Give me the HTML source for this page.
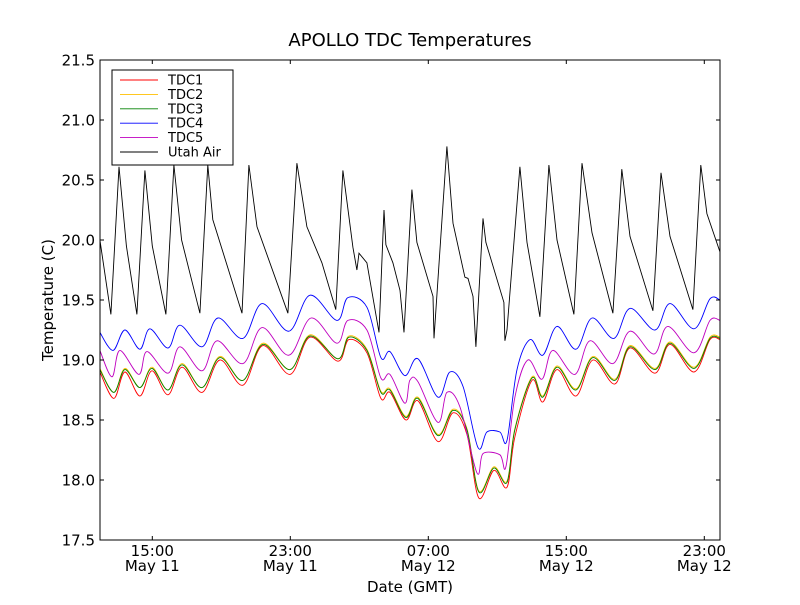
<!DOCTYPE html>
<html><head><meta charset="utf-8"><style>
body{margin:0;background:#fff;font-family:"Liberation Sans","DejaVu Sans",sans-serif}
svg text{font-family:"DejaVu Sans","Liberation Sans",sans-serif}
</style></head><body>
<svg id="c" width="800" height="600" xmlns="http://www.w3.org/2000/svg">
<rect width="800" height="600" fill="#fff"/>
<text x="410" y="46" font-size="18" text-anchor="middle">APOLLO TDC Temperatures</text>
<text x="0" y="0" font-size="15" text-anchor="middle" transform="translate(53,300) rotate(-90)">Temperature (C)</text>
<text x="410" y="592" font-size="15" text-anchor="middle">Date (GMT)</text>
<g id="series"></g>
<g id="axes"></g>
<g id="legend"></g>
</svg>
<script>
// time in hours since 00:30 GMT May 11
const tickHours=[14.5,22.5,30.5,38.5,46.5];
const tickTimes=["15:00","23:00","07:00","15:00","23:00"];
const tickDates=["May 11","May 11","May 12","May 12","May 12"];
const yTicks=[17.5,18.0,18.5,19.0,19.5,20.0,20.5,21.0,21.5];
const seriesNames=["TDC1","TDC2","TDC3","TDC4","TDC5","Utah Air"];
const seriesColors=["#ff0000","#ffbf00","#008000","#0000ff","#bf00bf","#000000"];

const tUtah=[11.46,12.10,12.57,13.0,13.61,14.07,14.5,15.29,15.75,16.2,17.26,17.72,18.01,19.70,20.10,20.57,22.36,22.88,23.46,24.33,25.14,25.55,26.13,26.36,26.48,26.94,27.64,27.93,28.04,28.45,28.86,29.09,29.55,29.84,30.77,30.83,31.58,31.93,32.62,32.80,33.09,33.26,33.67,33.84,34.88,34.94,35.06,35.81,36.22,36.97,37.49,37.96,38.94,39.41,39.99,41.20,41.72,42.19,43.52,43.99,44.51,45.84,46.30,46.65,47.41];
const vUtah=[20.0,19.38,20.61,19.95,19.38,20.58,19.95,19.38,20.625,20.0,19.39,20.625,20.17,19.39,20.625,20.11,19.39,20.64,20.11,19.81,19.42,20.58,19.94,19.75,19.89,19.81,19.23,20.25,19.96,19.81,19.58,19.23,20.42,19.98,19.53,19.18,20.78,20.14,19.69,19.68,19.53,19.11,20.18,19.98,19.48,19.16,19.25,20.61,19.98,19.36,20.625,20.0,19.38,20.64,20.06,19.39,20.59,20.03,19.41,20.56,20.03,19.42,20.625,20.22,19.9];

const tTDC4=[11.46,12.22,12.91,13.78,14.36,15.41,16.10,17.38,18.30,19.75,20.86,22.42,23.64,25.20,25.84,26.94,27.75,28.28,29.14,29.9,31.06,31.75,32.51,33.38,33.9,34.65,35.06,35.64,36.39,37.14,37.96,39.06,39.99,41.26,42.19,43.64,44.51,45.9,46.83,47.41];
const vTDC4=[19.23,19.08,19.25,19.09,19.26,19.1,19.29,19.11,19.35,19.18,19.47,19.24,19.54,19.33,19.52,19.44,19.02,19.07,18.87,19.01,18.69,18.9,18.78,18.27,18.4,18.4,18.33,18.92,19.17,19.04,19.28,19.09,19.35,19.18,19.43,19.25,19.47,19.26,19.51,19.5];

const tTDC5=[11.46,12.16,12.62,13.72,14.19,15.41,16.1,17.38,18.25,19.75,20.86,22.42,23.7,25.2,25.84,26.94,27.75,28.28,29.14,29.43,29.9,31.06,31.58,32.33,33.32,33.67,34.65,35.0,35.52,36.27,37.09,37.72,38.99,39.87,41.2,42.19,43.58,44.39,45.9,46.83,47.41];
const vTDC5=[19.08,18.86,19.08,18.88,19.07,18.89,19.11,18.91,19.16,18.97,19.27,19.04,19.35,19.14,19.33,19.25,18.85,18.88,18.64,18.83,18.82,18.48,18.73,18.61,18.06,18.22,18.21,18.11,18.69,19.0,18.84,19.08,18.88,19.16,18.97,19.24,19.05,19.28,19.06,19.33,19.33];

const tTDC=[11.46,12.27,12.91,13.78,14.48,15.41,16.22,17.38,18.42,19.75,20.91,22.48,23.64,25.26,25.9,26.94,27.75,28.28,29.2,29.9,31.06,31.93,32.74,33.43,34.3,35.06,35.52,36.51,37.14,37.96,39.06,40.04,41.32,42.19,43.64,44.51,45.9,46.83,47.41];
const vTDC1=[18.9,18.68,18.9,18.7,18.91,18.71,18.94,18.73,19.0,18.79,19.12,18.88,19.19,18.99,19.17,19.06,18.68,18.73,18.5,18.66,18.32,18.56,18.38,17.85,18.08,17.94,18.36,18.83,18.65,18.92,18.7,19.0,18.8,19.1,18.89,19.13,18.9,19.17,19.17];
const vTDC2=[18.93,18.73,18.93,18.77,18.94,18.75,18.97,18.77,19.03,18.83,19.14,18.92,19.21,19.01,19.2,19.09,18.74,18.76,18.53,18.69,18.38,18.59,18.43,17.91,18.11,17.99,18.43,18.86,18.7,18.95,18.76,19.03,18.84,19.12,18.93,19.15,18.94,19.19,19.19];
const vTDC3=[18.92,18.73,18.92,18.77,18.93,18.75,18.96,18.77,19.02,18.83,19.13,18.92,19.2,19.01,19.19,19.08,18.73,18.75,18.52,18.68,18.37,18.58,18.42,17.9,18.1,17.98,18.42,18.85,18.69,18.94,18.75,19.02,18.83,19.11,18.92,19.14,18.93,19.18,19.18];

const NS="http://www.w3.org/2000/svg";
const X0=100,X1=720,Y0=60,Y1=540;
function xs(h){return 152.3+(h-14.5)*17.25;}
function ys(v){return Y1-(v-17.5)*120;}
function mk(tag,parent){const e=document.createElementNS(NS,tag);parent.appendChild(e);return e;}
function linearPath(t,v){return t.map((h,i)=>(i?"L":"M")+xs(h).toFixed(1)+","+ys(v[i]).toFixed(1)).join("");}
function smoothPath(t,v){
  const p=t.map((h,i)=>[xs(h),ys(v[i])]);
  let d="M"+p[0][0].toFixed(1)+","+p[0][1].toFixed(1);
  for(let i=0;i<p.length-1;i++){
    const p0=p[Math.max(0,i-1)],p1=p[i],p2=p[i+1],p3=p[Math.min(p.length-1,i+2)];
    const c1=[p1[0]+(p2[0]-p0[0])/6,p1[1]+(p2[1]-p0[1])/6];
    const c2=[p2[0]-(p3[0]-p1[0])/6,p2[1]-(p3[1]-p1[1])/6];
    d+="C"+c1[0].toFixed(1)+","+c1[1].toFixed(1)+" "+c2[0].toFixed(1)+","+c2[1].toFixed(1)+" "+p2[0].toFixed(1)+","+p2[1].toFixed(1);
  }
  return d;
}
const sg=document.getElementById("series");
const clip=mk("clipPath",sg);clip.setAttribute("id","pc");
const cr=mk("rect",clip);cr.setAttribute("x",X0);cr.setAttribute("y",Y0);cr.setAttribute("width",X1-X0);cr.setAttribute("height",Y1-Y0);
const sData=[[tTDC,vTDC1,1],[tTDC,vTDC2,1],[tTDC,vTDC3,1],[tTDC4,vTDC4,1],[tTDC5,vTDC5,1],[tUtah,vUtah,0]];
const sKeys=["tdc1","tdc2","tdc3","tdc4","tdc5","utah-air"];
sData.forEach((s,i)=>{
  const p=mk("path",sg);
  p.setAttribute("d",s[2]?smoothPath(s[0],s[1]):linearPath(s[0],s[1]));
  p.setAttribute("fill","none");p.setAttribute("stroke",seriesColors[i]);p.setAttribute("stroke-width","0.9");
  p.setAttribute("clip-path","url(#pc)");
  
  
});
const ag=document.getElementById("axes");
const fr=mk("rect",ag);fr.setAttribute("x",X0);fr.setAttribute("y",Y0);fr.setAttribute("width",X1-X0);fr.setAttribute("height",Y1-Y0);
fr.setAttribute("fill","none");fr.setAttribute("stroke","#000");fr.setAttribute("stroke-width","1");


yTicks.forEach(v=>{
  const y=ys(v);
  [[X0,X0+4],[X1,X1-4]].forEach(a=>{const l=mk("line",ag);l.setAttribute("x1",a[0]);l.setAttribute("x2",a[1]);l.setAttribute("y1",y);l.setAttribute("y2",y);l.setAttribute("stroke","#000");
    
    });
  const t=mk("text",ag);t.setAttribute("x",95);t.setAttribute("y",y+5.5);t.setAttribute("font-size","15");t.setAttribute("text-anchor","end");t.textContent=v.toFixed(1);
  
  
});
tickHours.forEach((h,i)=>{
  const x=xs(h);
  [[Y1,Y1-4],[Y0,Y0+4]].forEach(a=>{const l=mk("line",ag);l.setAttribute("x1",x);l.setAttribute("x2",x);l.setAttribute("y1",a[0]);l.setAttribute("y2",a[1]);l.setAttribute("stroke","#000");
    
    });
  const t=mk("text",ag);t.setAttribute("x",x);t.setAttribute("y",556);t.setAttribute("font-size","15");t.setAttribute("text-anchor","middle");t.textContent=tickTimes[i];
  
  
  const d=mk("text",ag);d.setAttribute("x",x);d.setAttribute("y",571);d.setAttribute("font-size","15");d.setAttribute("text-anchor","middle");d.textContent=tickDates[i];
  
  
});
const lg=document.getElementById("legend");
const lb=mk("rect",lg);lb.setAttribute("x",112);lb.setAttribute("y",70);lb.setAttribute("width",121);lb.setAttribute("height",95);
lb.setAttribute("fill","#fff");lb.setAttribute("stroke","#000");


seriesNames.forEach((n,i)=>{
  const y=80+i*14.4;
  const l=mk("line",lg);l.setAttribute("x1",120);l.setAttribute("x2",158);l.setAttribute("y1",y);l.setAttribute("y2",y);l.setAttribute("stroke",seriesColors[i]);l.setAttribute("stroke-width","0.9");
  
  
  const t=mk("text",lg);t.setAttribute("x",168);t.setAttribute("y",y+4.5);t.setAttribute("font-size","13");t.textContent=n;
  
  
});
</script>
</body></html>
